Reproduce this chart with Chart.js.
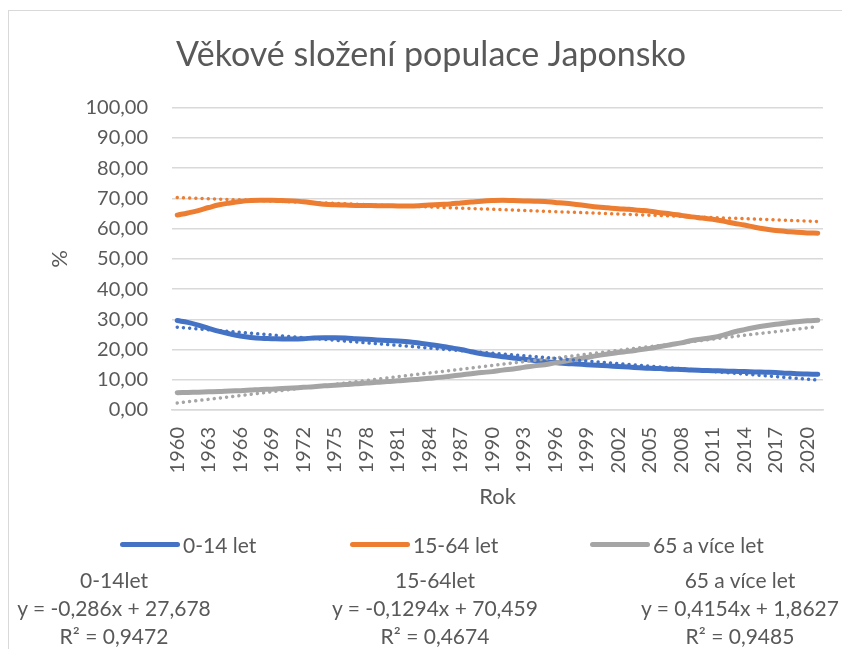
<!DOCTYPE html>
<html>
<head>
<meta charset="utf-8">
<script src="https://cdn.jsdelivr.net/npm/chart.js@4.4.1/dist/chart.umd.min.js"></script>
<style>
  body { margin:0; overflow:hidden; background:#fff; font-family: Lato, "Open Sans", sans-serif; color:#595959; }
  #frame { position:absolute; left:8px; top:10px; width:900px; height:700px; border:1.5px solid #d9d9d9; }
  #wrap { position:absolute; left:0; top:0; width:862px; height:649px; }
  .lg { position:absolute; top:532px; font-size:21px; display:flex; align-items:center; white-space:nowrap; }
  .lg i { display:inline-block; width:60px; height:5px; border-radius:3px; margin-right:3px; }
  .eq { position:absolute; top:566px; font-size:21px; line-height:28px; text-align:center; white-space:nowrap; transform:translateX(-50%); }
</style>
</head>
<body>
<div id="frame"></div>
<div id="wrap"><canvas id="c" width="862" height="649"></canvas></div>
<div id="legend"></div>
<div id="eqs"></div>
<script>
const years = [];
for (let y = 1960; y <= 2021; y++) years.push(String(y));

const kids = [29.6,29.0,28.1,27.0,26.0,25.2,24.5,24.0,23.7,23.6,23.5,23.5,23.6,23.8,23.9,23.9,23.8,23.6,23.4,23.2,
  23.0,22.8,22.6,22.2,21.7,21.2,20.6,20.0,19.3,18.6,18.1,17.6,17.2,16.8,16.4,16.0,15.7,15.4,15.2,15.0,
  14.8,14.6,14.4,14.2,14.0,13.8,13.7,13.5,13.4,13.2,13.1,13.0,12.9,12.8,12.7,12.6,12.5,12.4,12.2,12.0,11.9,11.8];
const workers = [64.5,65.2,66.0,67.0,67.9,68.5,69.0,69.3,69.4,69.4,69.3,69.2,68.9,68.5,68.1,67.9,67.8,67.7,67.7,67.6,
  67.6,67.5,67.5,67.6,67.8,68.0,68.2,68.5,68.8,69.1,69.3,69.4,69.3,69.2,69.1,69.0,68.7,68.4,68.0,67.6,
  67.2,66.9,66.6,66.4,66.1,65.8,65.3,64.9,64.4,63.9,63.5,63.1,62.5,61.8,61.2,60.5,59.9,59.4,59.1,58.8,58.6,58.5];
const seniors = [5.7,5.8,5.9,6.0,6.1,6.3,6.4,6.6,6.8,6.9,7.1,7.3,7.5,7.7,8.0,8.2,8.4,8.7,8.9,9.2,
  9.4,9.7,9.9,10.2,10.5,10.8,11.2,11.6,12.0,12.4,12.7,13.2,13.6,14.1,14.6,15.0,15.6,16.2,16.8,17.4,
  18.0,18.5,19.0,19.4,19.9,20.4,21.0,21.6,22.2,23.0,23.5,24.0,24.8,25.8,26.6,27.3,27.9,28.4,28.8,29.2,29.5,29.7];

// trend lines: start (1960) and end (2021) values
const kidsTrend = [27.4, 9.9];
const workersTrend = [70.3, 62.4];
const seniorsTrend = [2.3, 27.6];

const seriesNames = ["0-14 let", "15-64 let", "65 a více let"];
const colors = ["#4472C4", "#ED7D31", "#A5A5A5"];
const trendNames = ["0-14let", "15-64let", "65 a více let"];
const trendEq = ["y = -0,286x + 27,678", "y = -0,1294x + 70,459", "y = 0,4154x + 1,8627"];
const trendR2 = ["0,9472", "0,4674", "0,9485"];

const legendX = [120, 350, 590];
const eqX = [114, 435, 740];

const fmt = v => v.toFixed(2).replace(".", ",");
const ends = arr => [{x: years[0], y: arr[0]}, {x: years[years.length - 1], y: arr[1]}];

function series(label, data, color, order){
  return { label, data, borderColor: color, backgroundColor: color, borderWidth: 5,
    borderCapStyle: "round", pointRadius: 0, tension: 0.4, order };
}
function trend(data, color){
  return { label: "trend", data: ends(data), borderColor: color, borderWidth: 3.5,
    borderDash: [0.01, 6.2], borderCapStyle: "round", pointRadius: 0, order: 0, isTrend: true };
}

const font = { family: "Lato", size: 20 };
const chart = new Chart(document.getElementById("c"), {
  type: "line",
  data: {
    labels: years,
    datasets: [
      series(seriesNames[0], kids, colors[0], 3),
      series(seriesNames[1], workers, colors[1], 2),
      series(seriesNames[2], seniors, colors[2], 1),
      trend(kidsTrend, colors[0]),
      trend(workersTrend, colors[1]),
      trend(seniorsTrend, colors[2])
    ]
  },
  options: {
    responsive: false,
    animation: false,
    layout: { padding: { left: 39, right: 39, top: 0, bottom: 139 } },
    plugins: {
      legend: { display: false },
      tooltip: { enabled: false },
      title: { display: true, text: "Věkové složení populace Japonsko", color: "#595959",
        font: { family: "Lato", size: 34, weight: "normal" }, padding: { top: 35, bottom: 32 } }
    },
    scales: {
      x: {
        offset: true,
        grid: { display: false, drawTicks: false },
        border: { color: "#d9d9d9", width: 1.5 },
        ticks: { autoSkip: false, minRotation: 90, maxRotation: 90, padding: 17, color: "#595959", font,
          callback: (v, i) => i % 3 === 0 ? years[i] : "" },
        title: { display: true, text: "Rok", color: "#595959", font: { family: "Lato", size: 22 }, padding: 0 },
        afterFit: s => { s.height = 100; }
      },
      y: {
        min: 0, max: 100,
        grid: { color: "#d9d9d9", lineWidth: 1.5, drawTicks: false },
        border: { display: false },
        ticks: { stepSize: 10, padding: 24, color: "#595959", font, callback: v => fmt(v) },
        title: { display: true, text: "%", color: "#595959", font: { family: "Lato", size: 22 }, padding: { top: 8, bottom: 0 } },
        afterFit: s => { s.width = 133; }
      }
    }
  }
});

// html legend from the chart's own series
const lg = document.getElementById("legend");
chart.data.datasets.filter(d => !d.isTrend).forEach((d, i) => {
  const el = document.createElement("div");
  el.className = "lg";
  el.style.left = legendX[i] + "px";
  el.innerHTML = `<i style="background:${d.borderColor}"></i>${d.label}`;
  lg.appendChild(el);
});

const eqs = document.getElementById("eqs");
trendNames.forEach((n, i) => {
  const el = document.createElement("div");
  el.className = "eq";
  el.style.left = eqX[i] + "px";
  el.innerHTML = `${n}<br>${trendEq[i]}<br>R² = ${trendR2[i]}`;
  eqs.appendChild(el);
});
</script>
</body>
</html>
